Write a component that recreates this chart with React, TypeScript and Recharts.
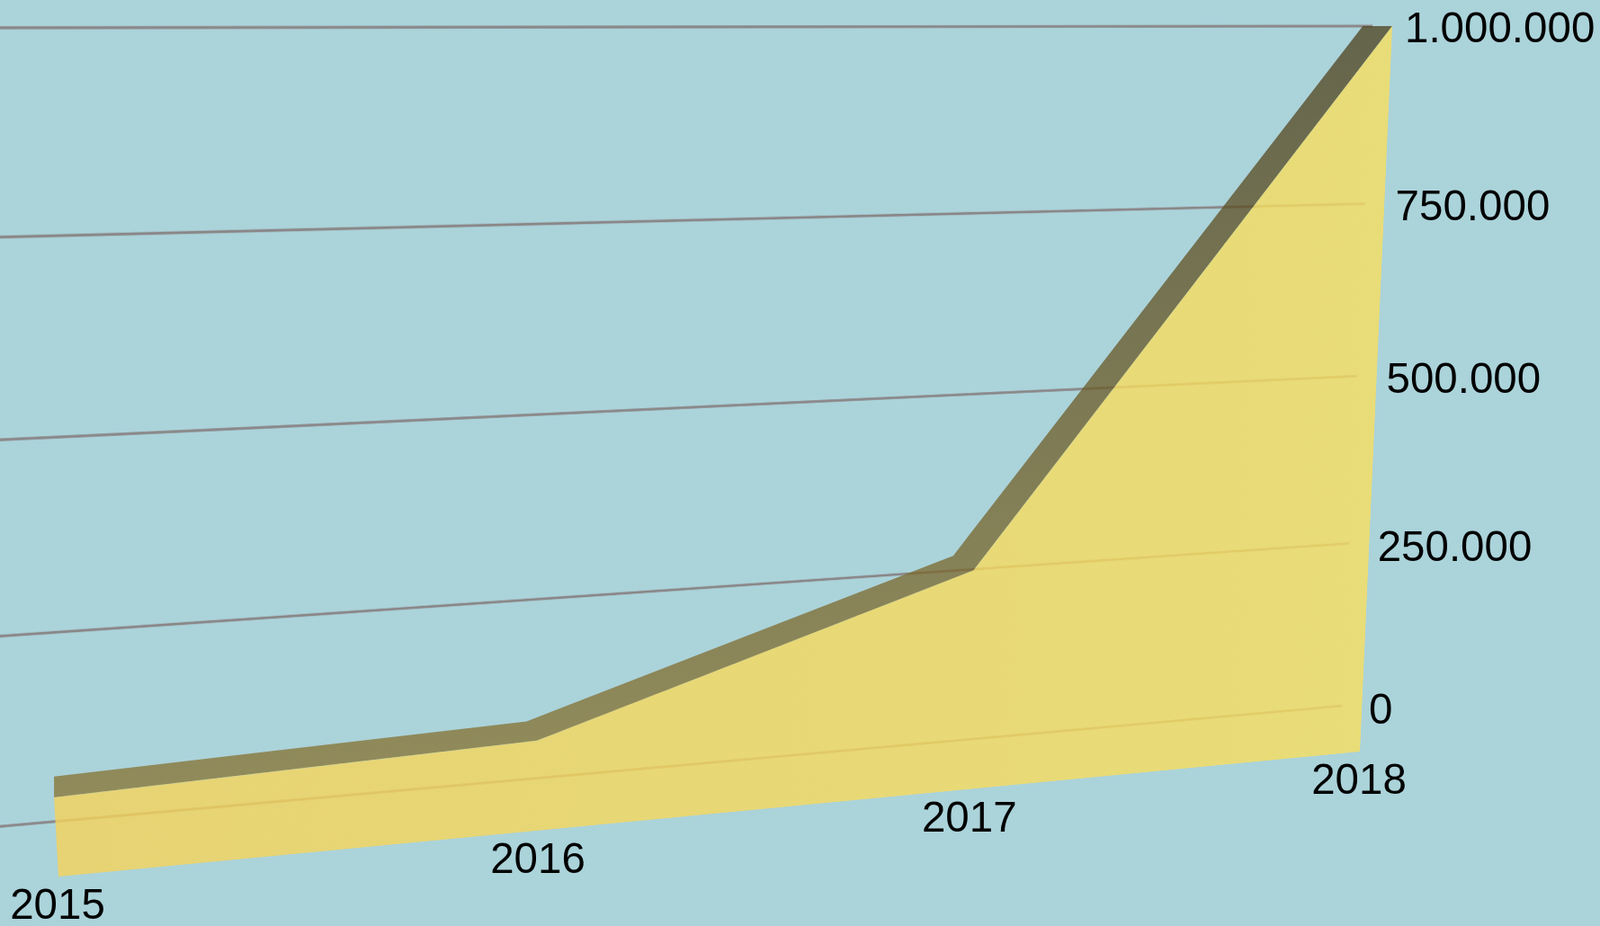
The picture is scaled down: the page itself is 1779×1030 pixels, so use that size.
import { AreaChart, Area, XAxis, YAxis, ReferenceLine, ReferenceArea } from "recharts";

const years = [2015, 2016, 2017, 2018];
const values = [52000, 72000, 262000, 1000000];
const gridValues = [0, 250000, 500000, 750000, 1000000];
const gridLabels = ["0", "250.000", "500.000", "750.000", "1.000.000"];

const data = years.map((year, i) => ({ year, value: values[i] }));

const W = 1779;
const H = 1030;
const M = 20;
const margin = { top: M, right: M, bottom: M, left: M };
const FLOOR = -52000;
const TOP = 1000000;

type Pt = [number, number];

// screen corners of each plane: top left, top right, bottom right, bottom left
const frontCorners: Pt[] = [[12, 31], [1548, 29], [1512, 836], [65, 975]];
const gridCorners: Pt[] = [[-90, 31], [1526, 29], [1492, 785], [-20, 921]];
const vanish: Pt = [60, 29];
const backCorners: Pt[] = frontCorners.map(([x, y]) => [
  vanish[0] + 0.978 * (x - vanish[0]),
  vanish[1] + 0.973 * (y - vanish[1]),
]);

const plotCorners: Pt[] = [[M, M], [W - M, M], [W - M, H - M], [M, H - M]];

function solve(A: number[][], b: number[]) {
  const n = b.length;
  const m = A.map((row, i) => [...row, b[i]]);
  for (let c = 0; c < n; c++) {
    let p = c;
    for (let r = c + 1; r < n; r++) if (Math.abs(m[r][c]) > Math.abs(m[p][c])) p = r;
    [m[c], m[p]] = [m[p], m[c]];
    for (let r = 0; r < n; r++) {
      if (r === c) continue;
      const f = m[r][c] / m[c][c];
      for (let k = c; k <= n; k++) m[r][k] -= f * m[c][k];
    }
  }
  return m.map((row, i) => row[n] / row[i]);
}

function homography(dst: Pt[]) {
  const A: number[][] = [];
  const b: number[] = [];
  plotCorners.forEach(([x, y], i) => {
    const [X, Y] = dst[i];
    A.push([x, y, 1, 0, 0, 0, -x * X, -y * X]);
    b.push(X);
    A.push([0, 0, 0, x, y, 1, -x * Y, -y * Y]);
    b.push(Y);
  });
  return solve(A, b);
}

const frontH = homography(frontCorners);
const backH = homography(backCorners);
const gridH = homography(gridCorners);

function project(h: number[], x: number, y: number): Pt {
  const w = h[6] * x + h[7] * y + 1;
  return [(h[0] * x + h[1] * y + h[2]) / w, (h[3] * x + h[4] * y + h[5]) / w];
}

function matrix(h: number[]) {
  return `matrix3d(${h[0]},${h[3]},0,${h[6]},${h[1]},${h[4]},0,${h[7]},0,0,1,0,${h[2]},${h[5]},0,1)`;
}

const plotX = (year: number) => M + ((year - years[0]) / (years[3] - years[0])) * (W - 2 * M);
const plotY = (v: number) => H - M - ((v - FLOOR) / (TOP - FLOOR)) * (H - 2 * M);

// the visible band between the front and back edge of the surface
const backEdge = data.map((d) => project(backH, plotX(d.year), plotY(d.value)));
const frontEdge = data.map((d) => project(frontH, plotX(d.year), plotY(d.value)));
const bandClip = `polygon(${[...backEdge, ...[...frontEdge].reverse()]
  .map(([x, y]) => `${x}px ${y}px`)
  .join(",")})`;

const layer = { position: "absolute", left: 0, top: 0, width: W, height: H } as const;

const labelStyle = { fontFamily: "'Liberation Sans', Arial, sans-serif", fontSize: 47.5, fill: "#000" };

const YearTick = ({ x, payload }: any) => {
  const [px, py] = project(frontH, x, H - M);
  return (
    <text x={px - 1} y={py + 47} textAnchor="middle" style={labelStyle}>
      {payload.value}
    </text>
  );
};

const ValueTick = ({ y, payload }: any) => {
  const [px, py] = project(gridH, W - M, y);
  const t = payload.value / TOP;
  return (
    <text x={px + 30 + 6 * t} y={py + 20 - 2.3 * t} textAnchor="start" style={labelStyle}>
      {gridLabels[gridValues.indexOf(payload.value)]}
    </text>
  );
};

export default function App() {
  return (
    <div style={{ position: "fixed", left: 0, top: 0, width: W, height: H, overflow: "hidden", background: "#abd3da" }}>
      <div style={{ ...layer, transformOrigin: "0 0", transform: matrix(gridH) }}>
        <AreaChart width={W} height={H} data={data} margin={margin}>
          <XAxis dataKey="year" type="number" domain={[2015, 2018]} hide />
          <YAxis type="number" domain={[0, TOP]} hide />
          <Area dataKey="value" stroke="none" fill="none" isAnimationActive={false} />
          {gridValues.map((v) => (
            <ReferenceLine key={v} y={v} stroke="#8a8788" strokeWidth={3.6} />
          ))}
        </AreaChart>
      </div>

      <div style={{ ...layer, clipPath: bandClip }}>
        <div style={{ ...layer, transformOrigin: "0 0", transform: matrix(frontH) }}>
          <AreaChart width={W} height={H} data={data} margin={margin}>
            <defs>
              <linearGradient id="band" x1="0" y1="0" x2="0" y2="1">
                <stop offset="0" stopColor="rgb(76,63,27)" stopOpacity={0.75} />
                <stop offset="1" stopColor="rgb(142,120,50)" stopOpacity={0.75} />
              </linearGradient>
            </defs>
            <XAxis dataKey="year" type="number" domain={[2015, 2018]} hide />
            <YAxis type="number" domain={[FLOOR, TOP]} hide />
            <Area dataKey="value" stroke="none" fill="none" isAnimationActive={false} />
            <ReferenceArea x1={2015} x2={2018} y1={FLOOR} y2={TOP} fill="url(#band)" fillOpacity={1} stroke="none" />
          </AreaChart>
        </div>
      </div>

      <div style={{ ...layer, transformOrigin: "0 0", transform: matrix(frontH) }}>
        <AreaChart width={W} height={H} data={data} margin={margin}>
          <defs>
            <linearGradient id="face" x1="0" y1="0" x2="1" y2="0">
              <stop offset="0" stopColor="rgb(245,210,89)" stopOpacity={0.8} />
              <stop offset="1" stopColor="rgb(247,222,95)" stopOpacity={0.8} />
            </linearGradient>
          </defs>
          <XAxis dataKey="year" type="number" domain={[2015, 2018]} hide />
          <YAxis type="number" domain={[FLOOR, TOP]} hide />
          <Area
            dataKey="value"
            type="linear"
            baseValue="dataMin"
            stroke="none"
            fill="url(#face)"
            fillOpacity={1}
            isAnimationActive={false}
          />
        </AreaChart>
      </div>

      <div style={layer}>
        <AreaChart
          width={W}
          height={H}
          data={data}
          margin={{ top: M, left: M, right: M - 1, bottom: M - 1 }}
        >
          <XAxis
            dataKey="year"
            type="number"
            domain={[2015, 2018]}
            ticks={years}
            interval={0}
            height={1}
            axisLine={false}
            tickLine={false}
            tick={YearTick}
          />
          <YAxis
            type="number"
            domain={[0, TOP]}
            ticks={gridValues}
            interval={0}
            width={1}
            orientation="right"
            axisLine={false}
            tickLine={false}
            tick={ValueTick}
          />
          <Area dataKey="value" stroke="none" fill="none" isAnimationActive={false} />
        </AreaChart>
      </div>
    </div>
  );
}
